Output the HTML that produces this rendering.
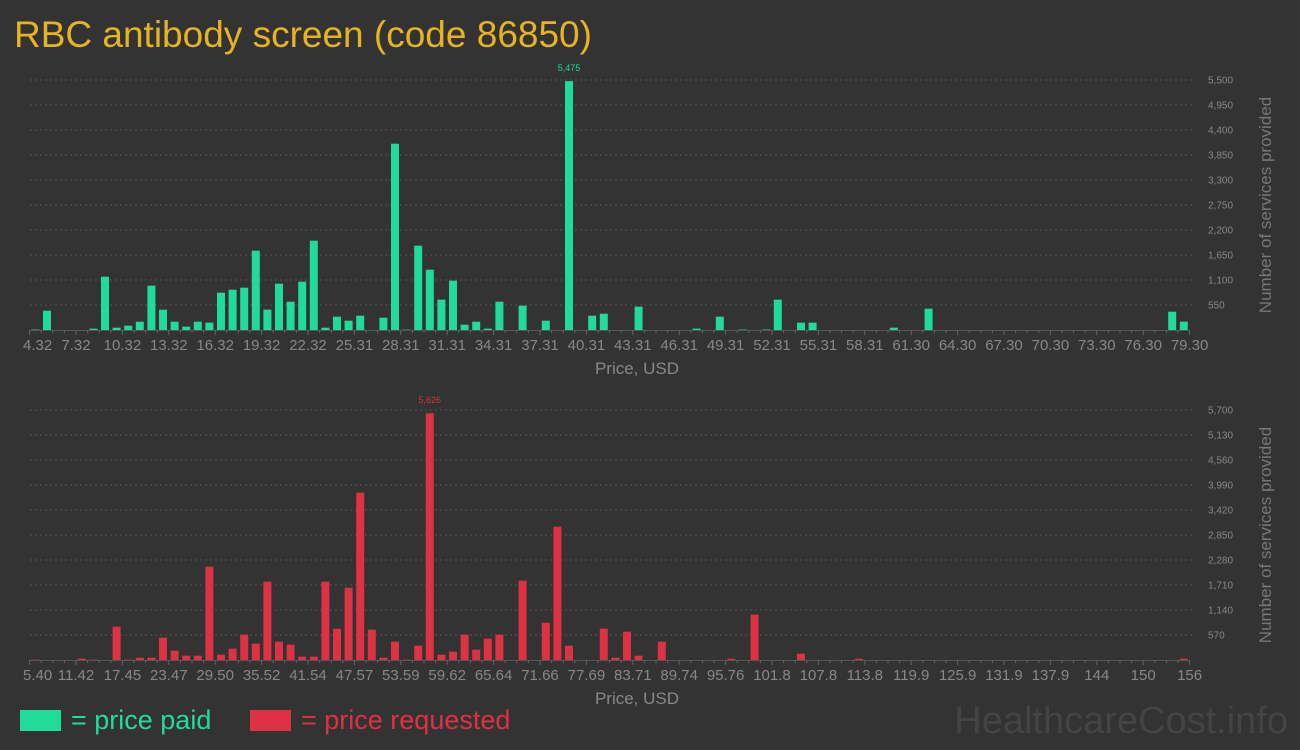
<!DOCTYPE html>
<html><head><meta charset="utf-8"><style>
body{margin:0;background:#333;width:1300px;height:750px;overflow:hidden}
svg{display:block}
text{font-family:"Liberation Sans Narrow","Liberation Sans",sans-serif}
</style></head><body>
<svg id="chart" width="1300" height="750" viewBox="0 0 1300 750">
<text x="14" y="47" font-size="37" fill="#e7b322">RBC antibody screen (code 86850)</text>
<g id="top"></g>
<g id="bot"></g>
<rect x="20" y="710" width="41" height="21" fill="#21db9b"/>
<text x="71" y="729" font-size="27" fill="#21db9b">= price paid</text>
<rect x="250" y="710" width="41" height="21" fill="#dc3243"/>
<text x="301" y="729" font-size="27" fill="#dc3243">= price requested</text>
<text x="1288" y="733" font-size="38" fill="#444" text-anchor="end">HealthcareCost.info</text>
</svg>
<script>
const paidSlots=[0,1,5,6,7,8,9,10,11,12,13,14,15,16,17,18,19,20,21,22,23,24,25,26,27,28,30,31,32,33,34,35,36,37,38,39,40,42,44,46,48,49,52,57,59,61,63,64,66,67,74,77,98,99];
const paidValues=[10,425,30,1173,51,95,183,975,447,183,73,183,161,821,887,931,1745,447,1019,623,1063,1965,51,293,205,315,271,4099,7,1855,1327,667,1085,117,183,30,623,535,205,5475,315,359,513,30,293,10,10,667,161,161,51,469,403,183];
const paidTicks=["4.32","7.32","10.32","13.32","16.32","19.32","22.32","25.31","28.31","31.31","34.31","37.31","40.31","43.31","46.31","49.31","52.31","55.31","58.31","61.30","64.30","67.30","70.30","73.30","76.30","79.30"];
const paidYTicks=[550,1100,1650,2200,2750,3300,3850,4400,4950,5500];
const reqSlots=[0,4,5,7,8,9,10,11,12,13,14,15,16,17,18,19,20,21,22,23,24,25,26,27,28,29,30,31,32,33,34,35,36,37,38,39,40,42,44,45,46,49,50,51,52,54,60,62,66,71,99];
const reqValues=[8,30,8,760,8,53,53,509,213,99,99,2128,122,258,578,372,1786,418,350,76,76,1786,714,1649,3815,692,53,418,8,327,5626,122,190,578,236,486,578,1809,851,3040,327,714,53,646,99,418,30,1034,144,30,30];
const reqTicks=["5.40","11.42","17.45","23.47","29.50","35.52","41.54","47.57","53.59","59.62","65.64","71.66","77.69","83.71","89.74","95.76","101.8","107.8","113.8","119.9","125.9","131.9","137.9","144","150","156"];
const reqYTicks=[570,1140,1710,2280,2850,3420,3990,4560,5130,5700];
const NS="http://www.w3.org/2000/svg";
function mk(p,t,a){const e=document.createElementNS(NS,t);for(const k in a)e.setAttribute(k,a[k]);p.appendChild(e);return e;}
function draw(g,slots,vals,ticks,yt,color,base,nslots){
  const x0=29.6,x1=1189.6,slot=(x1-x0)/nslots,ymax=yt[yt.length-1];
  const y=v=>base-v/ymax*250;
  yt.forEach(v=>{
    const l=mk(g,'line',{x1:30,x2:1195,y1:y(v),y2:y(v),stroke:'#555','stroke-dasharray':'2,3'});
    
    
    const t=mk(g,'text',{x:1208,y:y(v)+3.5,'font-size':10,fill:'#888'});
    t.textContent=v.toLocaleString('en-US');
    
    
  });
  const ax=mk(g,'line',{x1:x0,x2:x1,y1:base+0.5,y2:base+0.5,stroke:'#555'});
  
  
  for(let i=0;i<=nslots;i++){
    const major=i%4===0;
    mk(g,'line',{x1:x0+i*slot,x2:x0+i*slot,y1:base,y2:base+(major?5:3),stroke:'#666'});
  }
  ticks.forEach((s,i)=>{
    const t=mk(g,'text',{x:x0+i*slot*4+(i===0?8:0),y:base+20,'font-size':15,fill:'#888','text-anchor':'middle'});
    t.textContent=s;
    
    
  });
  let mi=0;vals.forEach((v,i)=>{if(v>vals[mi])mi=i;});
  slots.forEach((s,i)=>{
    const v=vals[i];
    const r=mk(g,'rect',{x:x0+s*slot+1.8,y:y(v),width:8,height:base-y(v),fill:color});
    
    
    if(i===mi){
      const t=mk(g,'text',{x:x0+s*slot+5.8,y:y(v)-10,'font-size':9,fill:color,'text-anchor':'middle'});
      t.textContent=v.toLocaleString('en-US');
      
      
    }
  });
  const xt=mk(g,'text',{x:637,y:base+44,'font-size':17,fill:'#888','text-anchor':'middle'});
  xt.textContent='Price, USD';
  
  
  const yc=base-125;
  const ytl=mk(g,'text',{x:1271,y:yc,'font-size':17,fill:'#777','text-anchor':'middle',transform:'rotate(-90 1271 '+yc+')',style:'font-family:"Liberation Sans",sans-serif'});
  ytl.textContent='Number of services provided';
  
  
}
draw(document.getElementById('top'),paidSlots,paidValues,paidTicks,paidYTicks,'#21db9b',330,100);
draw(document.getElementById('bot'),reqSlots,reqValues,reqTicks,reqYTicks,'#dc3243',660,100);
</script>
</body></html>
